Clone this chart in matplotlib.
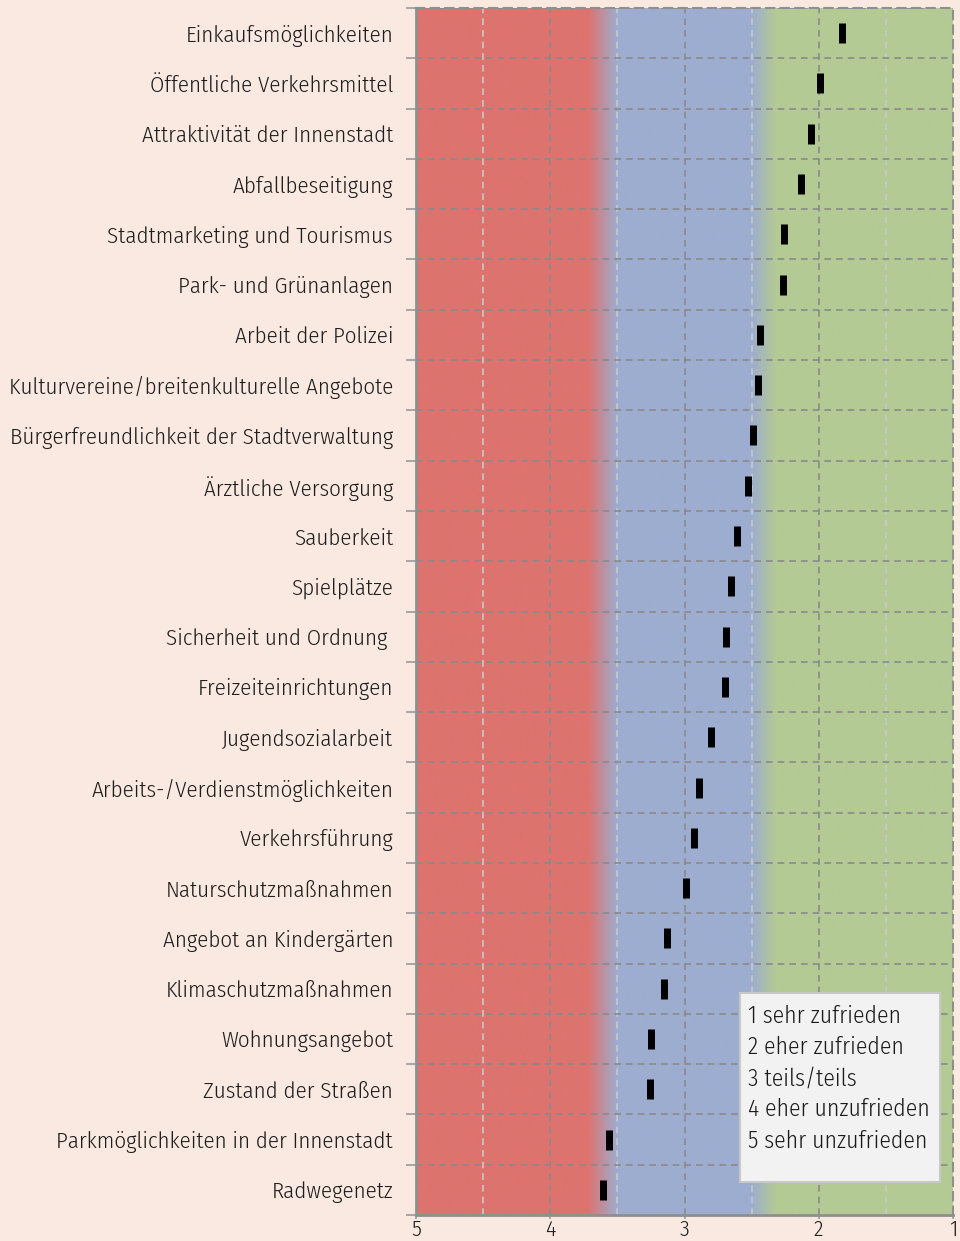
import numpy as np
import matplotlib
matplotlib.use("Agg")
import matplotlib.pyplot as plt
from matplotlib.colors import to_rgb
from matplotlib.patches import Rectangle

plt.rcParams['font.family'] = ['Fira Sans Condensed', 'Asap Condensed', 'DejaVu Sans']
plt.rcParams['font.weight'] = 300

categories = [
    "Einkaufsmöglichkeiten",
    "Öffentliche Verkehrsmittel",
    "Attraktivität der Innenstadt",
    "Abfallbeseitigung",
    "Stadtmarketing und Tourismus",
    "Park- und Grünanlagen",
    "Arbeit der Polizei",
    "Kulturvereine/breitenkulturelle Angebote",
    "Bürgerfreundlichkeit der Stadtverwaltung",
    "Ärztliche Versorgung",
    "Sauberkeit",
    "Spielplätze",
    "Sicherheit und Ordnung ",
    "Freizeiteinrichtungen",
    "Jugendsozialarbeit",
    "Arbeits-/Verdienstmöglichkeiten",
    "Verkehrsführung",
    "Naturschutzmaßnahmen",
    "Angebot an Kindergärten",
    "Klimaschutzmaßnahmen",
    "Wohnungsangebot",
    "Zustand der Straßen",
    "Parkmöglichkeiten in der Innenstadt",
    "Radwegenetz",
]
scores = [1.83, 1.99, 2.06, 2.13, 2.26, 2.27, 2.44, 2.45, 2.49, 2.53,
          2.61, 2.65, 2.69, 2.70, 2.80, 2.89, 2.93, 2.99, 3.13, 3.15,
          3.25, 3.26, 3.56, 3.61]
scale_ticks = [5, 4, 3, 2, 1]
legend_lines = ["1 sehr zufrieden", "2 eher zufrieden", "3 teils/teils",
                "4 eher unzufrieden", "5 sehr unzufrieden"]

bg = '#fae9e1'
red = to_rgb('#dd736e')
blue = to_rgb('#9dadd0')
green = to_rgb('#b4ca94')

fig = plt.figure(figsize=(9.6, 12.41), dpi=100, facecolor=bg)
ax = fig.add_axes([416/960, 1 - 1215/1241, (953 - 416)/960, (1215 - 8)/1241])
n = len(categories)

# gradient background (red -> blue -> green)
xs = np.linspace(5, 1, 800)
def band(v):
    if v >= 3.72:
        return red
    if v >= 3.5:
        t = (3.72 - v) / 0.22
        return tuple(r + (b - r) * t for r, b in zip(red, blue))
    if v >= 2.5:
        return blue
    if v >= 2.32:
        t = (2.5 - v) / 0.18
        return tuple(b + (g - b) * t for b, g in zip(blue, green))
    return green
img = np.array([[band(v) for v in xs]])
ax.imshow(img, extent=(5, 1, n - 0.5, -0.5), aspect='auto', zorder=0)

ax.set_xlim(5, 1)
ax.set_ylim(n - 0.5, -0.5)

# grid
for v in [4.5, 3.5, 2.5, 1.5]:
    ax.axvline(v, color='#c9c9c9', lw=1.2, ls=(0, (4, 3)), zorder=1)
for v in [4, 3, 2]:
    ax.axvline(v, color='#8a8a8a', lw=1.2, ls=(0, (4, 3)), zorder=1)
for k in range(n):
    ax.axhline(k - 0.5, color='#8a8a8a', lw=1.2, ls=(0, (4, 3)), zorder=1)

ax.plot(scores, range(n), ls='none', marker='|', ms=14.5, mew=5,
        color='black', zorder=3)

# axes styling
ax.set_yticks(np.arange(n + 1) - 0.5)
ax.set_yticklabels([])
ax.set_yticks(np.arange(n), minor=True)
ax.set_yticklabels(categories, minor=True, fontsize=16.5, color='#1e1e1e')
ax.tick_params(axis='y', which='major', length=7, width=1.2, color='#999999')
ax.tick_params(axis='y', which='minor', length=0, pad=16.5)
ax.set_xticks(scale_ticks)
ax.set_xticklabels([str(t) for t in scale_ticks], fontsize=16, color='#1e1e1e')
ax.tick_params(axis='x', length=3, width=1.2, color='#999999', pad=0)

for s in ['left', 'bottom']:
    ax.spines[s].set_color('#8f8f8f')
    ax.spines[s].set_linewidth(2)
for s in ['top', 'right']:
    ax.spines[s].set_color('#8f8f8f')
    ax.spines[s].set_linewidth(1.5)
    ax.spines[s].set_linestyle((0, (4, 3)))

# legend box
fig.patches.append(Rectangle((740/960, 1 - 1182/1241), 200/960, 189/1241,
                             transform=fig.transFigure, facecolor='#f2f2f2',
                             edgecolor='#c8c8c8', lw=1.5, zorder=5))
for i, line in enumerate(legend_lines):
    fig.text(748/960, 1 - (1016 + 31.2 * i)/1241, line, fontsize=17,
             color='#1a1a1a', va='center', ha='left', zorder=6)

fig.savefig('out.png', dpi=100, facecolor=bg)
